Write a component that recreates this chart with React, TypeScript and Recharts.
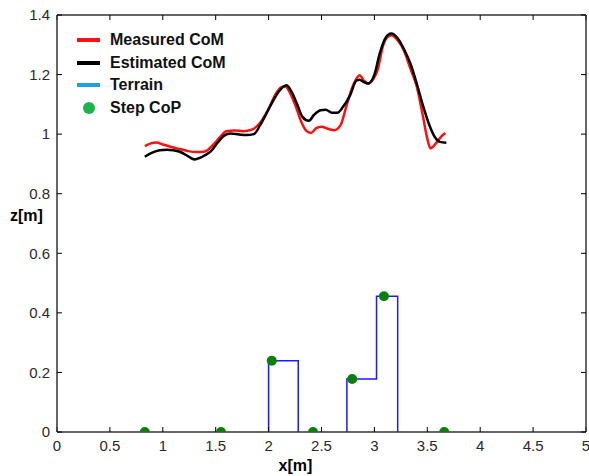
import React from 'react';
import { ComposedChart, Line, Scatter, XAxis, YAxis, Legend, Label } from 'recharts';

// x positions [m] and CoM heights [m]
const measuredX = [0.83, 0.88, 0.94, 1.0, 1.08, 1.16, 1.24, 1.32, 1.4, 1.47, 1.54, 1.6, 1.68, 1.76, 1.84, 1.92, 2.0, 2.06, 2.12, 2.16, 2.2, 2.26, 2.31, 2.36, 2.4, 2.45, 2.5, 2.56, 2.62, 2.68, 2.74, 2.8, 2.86, 2.9, 2.94, 2.99, 3.03, 3.08, 3.12, 3.16, 3.22, 3.28, 3.34, 3.4, 3.46, 3.5, 3.53, 3.56, 3.6, 3.64, 3.67];
const measuredZ = [0.96, 0.968, 0.972, 0.965, 0.957, 0.95, 0.943, 0.94, 0.942, 0.962, 0.99, 1.01, 1.012, 1.01, 1.015, 1.038, 1.085, 1.13, 1.158, 1.16, 1.14, 1.09, 1.04, 1.01, 1.004, 1.02, 1.025, 1.018, 1.013, 1.03, 1.1, 1.165, 1.198, 1.18, 1.17, 1.185, 1.215, 1.295, 1.325, 1.332, 1.315, 1.28, 1.22, 1.16, 1.058, 0.985, 0.952, 0.96, 0.978, 0.995, 1.004];

const estimatedX = [0.83, 0.9, 0.97, 1.04, 1.1, 1.16, 1.22, 1.3, 1.36, 1.45, 1.52, 1.58, 1.64, 1.72, 1.79, 1.86, 1.92, 1.98, 2.04, 2.1, 2.17, 2.22, 2.27, 2.32, 2.38, 2.43, 2.49, 2.54, 2.6, 2.65, 2.7, 2.77, 2.83, 2.86, 2.9, 2.94, 3.0, 3.05, 3.1, 3.16, 3.22, 3.28, 3.34, 3.4, 3.46, 3.52, 3.57, 3.62, 3.68];
const estimatedZ = [0.924, 0.938, 0.946, 0.948, 0.946, 0.941, 0.93, 0.915, 0.922, 0.941, 0.972, 0.995, 1.002, 0.999, 0.997, 1.0, 1.03, 1.07, 1.11, 1.145, 1.164, 1.14, 1.1, 1.058, 1.045, 1.065, 1.08, 1.082, 1.072, 1.072, 1.09, 1.13, 1.18, 1.183, 1.175, 1.17, 1.2, 1.27, 1.32, 1.338, 1.322, 1.285, 1.237, 1.17, 1.095, 1.03, 0.991, 0.974, 0.971];

// terrain blocks (null breaks the line between the two obstacles)
const terrainX = [2.0, 2.0, 2.28, 2.28, 2.5, 2.74, 2.74, 3.02, 3.02, 3.22, 3.22];
const terrainZ = [0, 0.239, 0.239, 0, null, 0, 0.178, 0.178, 0.456, 0.456, 0];

const copX = [0.83, 1.55, 2.03, 2.42, 2.79, 3.09, 3.66];
const copZ = [0, 0, 0.239, 0, 0.178, 0.456, 0];

const xTicks = [0, 0.5, 1, 1.5, 2, 2.5, 3, 3.5, 4, 4.5, 5];
const zTicks = [0, 0.2, 0.4, 0.6, 0.8, 1, 1.2, 1.4];

const measured = measuredX.map((x, i) => ({ x, z: measuredZ[i] }));
const estimated = estimatedX.map((x, i) => ({ x, z: estimatedZ[i] }));
const terrain = terrainX.map((x, i) => ({ x, z: terrainZ[i] }));
const cop = copX.map((x, i) => ({ x, z: copZ[i] }));

const legendItems = [
  { label: 'Measured CoM', color: '#ff1010', kind: 'line' },
  { label: 'Estimated CoM', color: '#000000', kind: 'line' },
  { label: 'Terrain', color: '#1ba1e2', kind: 'line' },
  { label: 'Step CoP', color: '#1db34a', kind: 'dot' },
];

const axisColor = '#333';
const tickFont = { fontFamily: 'Liberation Sans, Arial, sans-serif', fontSize: 15, fill: '#2a2a2a' };
const labelFont = { fontFamily: 'Liberation Sans, Arial, sans-serif', fontSize: 16, fontWeight: 'bold', fill: '#000' };

const LegendBox = () => (
  <div style={{ fontFamily: 'Liberation Sans, Arial, sans-serif', fontSize: 16, fontWeight: 'bold', color: '#111' }}>
    {legendItems.map((it) => (
      <div key={it.label} style={{ display: 'flex', alignItems: 'center', height: 22.7 }}>
        <div style={{ width: 23, display: 'flex', justifyContent: 'center' }}>
          {it.kind === 'line' ? (
            <div style={{ width: 23, height: 4, background: it.color }} />
          ) : (
            <div style={{ width: 12, height: 12, borderRadius: 6, background: it.color }} />
          )}
        </div>
        <span style={{ marginLeft: 10 }}>{it.label}</span>
      </div>
    ))}
  </div>
);

const Empty = () => <g />;

export default function App() {
  return (
    <div style={{ position: 'absolute', left: 0, top: 0, width: 589, height: 476 }}>
      <ComposedChart width={589} height={476} margin={{ top: 14, right: 2, left: 0, bottom: 0 }}>
        <XAxis
          xAxisId="bottom"
          type="number"
          dataKey="x"
          domain={[0, 5]}
          ticks={xTicks}
          interval={0}
          allowDataOverflow
          height={44}
          tickSize={-5}
          tickMargin={13}
          tick={tickFont}
          axisLine={{ stroke: axisColor, strokeWidth: 1.5 }}
          tickLine={{ stroke: '#000', strokeWidth: 1 }}
        >
          <Label value="x[m]" position="insideBottom" offset={5} dx={-26} style={labelFont} />
        </XAxis>
        <XAxis
          xAxisId="top"
          orientation="top"
          type="number"
          dataKey="x"
          domain={[0, 5]}
          ticks={xTicks}
          interval={0}
          allowDataOverflow
          height={1}
          tickSize={-5}
          tick={Empty}
          axisLine={{ stroke: axisColor, strokeWidth: 1.5 }}
          tickLine={{ stroke: '#000', strokeWidth: 1 }}
        />
        <YAxis
          yAxisId="left"
          type="number"
          dataKey="z"
          domain={[0, 1.4]}
          ticks={zTicks}
          interval={0}
          allowDataOverflow
          width={57}
          tickSize={-5}
          tickMargin={12}
          tick={tickFont}
          axisLine={{ stroke: axisColor, strokeWidth: 1.5 }}
          tickLine={{ stroke: '#000', strokeWidth: 1 }}
        >
          <Label value="z[m]" position="insideLeft" offset={10} dy={-8} angle={0} style={labelFont} />
        </YAxis>
        <YAxis
          yAxisId="right"
          orientation="right"
          type="number"
          dataKey="z"
          domain={[0, 1.4]}
          ticks={zTicks}
          interval={0}
          allowDataOverflow
          width={1}
          tickSize={-5}
          tick={Empty}
          axisLine={{ stroke: axisColor, strokeWidth: 1.5 }}
          tickLine={{ stroke: '#000', strokeWidth: 1 }}
        />
        <Legend
          layout="vertical"
          align="center"
          verticalAlign="middle"
          content={LegendBox}
          wrapperStyle={{ top: 28.6, left: 77, width: 'auto' }}
        />
        {/* invisible series so the top and right frame axes get drawn */}
        <Line
          xAxisId="top"
          yAxisId="right"
          data={measured}
          dataKey="z"
          stroke="none"
          dot={false}
          activeDot={false}
          legendType="none"
          isAnimationActive={false}
        />
        <Line
          xAxisId="bottom"
          yAxisId="left"
          data={terrain}
          dataKey="z"
          type="linear"
          stroke="#1a1aff"
          strokeWidth={1.5}
          dot={false}
          activeDot={false}
          isAnimationActive={false}
        />
        <Line
          xAxisId="bottom"
          yAxisId="left"
          data={measured}
          dataKey="z"
          type="monotone"
          stroke="#ff1010"
          strokeWidth={2.5}
          dot={false}
          activeDot={false}
          isAnimationActive={false}
        />
        <Line
          xAxisId="bottom"
          yAxisId="left"
          data={estimated}
          dataKey="z"
          type="monotone"
          stroke="#000000"
          strokeWidth={2.5}
          dot={false}
          activeDot={false}
          isAnimationActive={false}
        />
        <Scatter
          xAxisId="bottom"
          yAxisId="left"
          data={cop}
          dataKey="z"
          isAnimationActive={false}
          shape={(p: any) => <circle cx={p.cx} cy={p.cy} r={5} fill="#0a800a" />}
        />
      </ComposedChart>
    </div>
  );
}
